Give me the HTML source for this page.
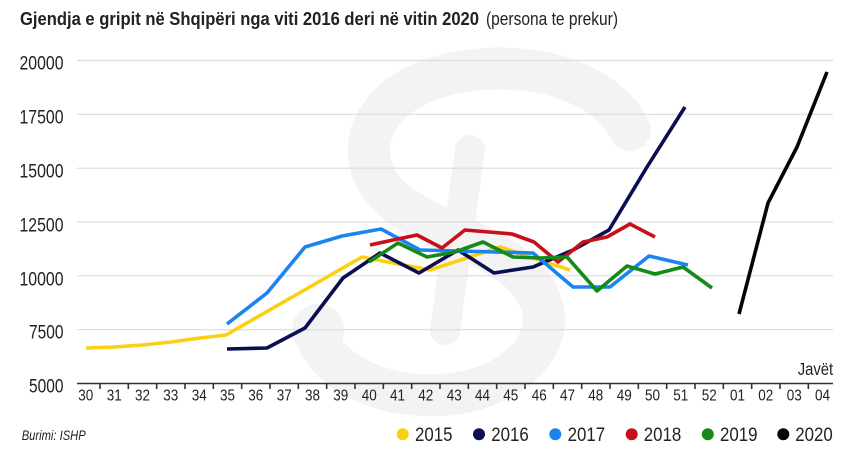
<!DOCTYPE html>
<html>
<head>
<meta charset="utf-8">
<style>
html,body{margin:0;padding:0;background:#fff;}
svg{display:block;}
text{font-family:"Liberation Sans",Arial,sans-serif;fill:#222;}
</style>
</head>
<body>
<svg width="850" height="450" viewBox="0 0 850 450" xmlns="http://www.w3.org/2000/svg">
<rect width="850" height="450" fill="#fff"/>
<!-- watermark -->
<g fill="none" stroke="#f3f3f3" stroke-linecap="round">
<path d="M630,130 C600,70 500,55 430,80 C360,105 350,170 400,205 C450,240 520,250 540,300 C560,350 500,400 420,395 C370,392 335,370 320,345" stroke-width="42"/>
<path d="M470,150 L445,330" stroke-width="30"/>
</g>
<circle cx="318" cy="330" r="26" fill="#f3f3f3"/>

<!-- title -->
<text x="20" y="25" font-size="18" font-weight="bold" textLength="459" lengthAdjust="spacingAndGlyphs" fill="#111">Gjendja e gripit në Shqipëri nga viti 2016 deri në vitin 2020</text>
<text x="486" y="25" font-size="18" textLength="132" lengthAdjust="spacingAndGlyphs" fill="#333">(persona te prekur)</text>

<!-- gridlines -->
<g stroke="#dcdcdc" stroke-width="1.2">
<line x1="77" y1="60.5" x2="833" y2="60.5"/>
<line x1="77" y1="114.3" x2="833" y2="114.3"/>
<line x1="77" y1="168.2" x2="833" y2="168.2"/>
<line x1="77" y1="222" x2="833" y2="222"/>
<line x1="77" y1="275.8" x2="833" y2="275.8"/>
<line x1="77" y1="329.7" x2="833" y2="329.7"/>
</g>

<!-- y labels -->
<g font-size="19.5" text-anchor="end" fill="#222">
<text x="63.5" y="69.5" textLength="44" lengthAdjust="spacingAndGlyphs">20000</text>
<text x="63.5" y="123.5" textLength="44" lengthAdjust="spacingAndGlyphs">17500</text>
<text x="63.5" y="177.5" textLength="44" lengthAdjust="spacingAndGlyphs">15000</text>
<text x="63.5" y="231.5" textLength="44" lengthAdjust="spacingAndGlyphs">12500</text>
<text x="63.5" y="285.5" textLength="44" lengthAdjust="spacingAndGlyphs">10000</text>
<text x="63.5" y="338.5" textLength="34.5" lengthAdjust="spacingAndGlyphs">7500</text>
<text x="63.5" y="392.5" textLength="34.5" lengthAdjust="spacingAndGlyphs">5000</text>
</g>

<!-- series -->
<g fill="none" stroke-width="3.6" stroke-linejoin="round" stroke-linecap="butt">
<polyline stroke="#fcd012" points="86,348 114,347 143,345 171,342 200,338 226,335 294,296 362,257 430,270 500,247 570,270"/>
<polyline stroke="#0b0f52" points="227,349 267,348 305,328 343,278 380,253 419,273 458,250 494,273 533,267 573,250 609,230 647,167 685,107"/>
<polyline stroke="#1a84f0" points="227,324 267,293 305,247 342,236 381,229 420,250 458,251 495,252 533,253 573,287 610,287 649,256 688,265"/>
<polyline stroke="#c8101a" points="370,245 393,240 417,235 442,248 465,230 489,232 512,234 534,242 558,262 583,242 607,237 630,224 655,237"/>
<polyline stroke="#158a1a" points="369,262 398,243 427,257 455,252 483,242 513,257 540,258 567,257 597,291 627,266 655,274 683,267 712,288"/>
<polyline stroke="#050505" points="739,314 768,203 797,147 827,72"/>
</g>

<!-- x axis -->
<line x1="77" y1="383.5" x2="833" y2="383.5" stroke="#333" stroke-width="1.6"/>
<g stroke="#333" stroke-width="1.6">
<line x1="100" y1="383" x2="100" y2="389"/>
<line x1="128.33" y1="383" x2="128.33" y2="389"/>
<line x1="156.67" y1="383" x2="156.67" y2="389"/>
<line x1="185" y1="383" x2="185" y2="389"/>
<line x1="213.33" y1="383" x2="213.33" y2="389"/>
<line x1="241.67" y1="383" x2="241.67" y2="389"/>
<line x1="270" y1="383" x2="270" y2="389"/>
<line x1="298.33" y1="383" x2="298.33" y2="389"/>
<line x1="326.67" y1="383" x2="326.67" y2="389"/>
<line x1="355" y1="383" x2="355" y2="389"/>
<line x1="383.33" y1="383" x2="383.33" y2="389"/>
<line x1="411.67" y1="383" x2="411.67" y2="389"/>
<line x1="440" y1="383" x2="440" y2="389"/>
<line x1="468.33" y1="383" x2="468.33" y2="389"/>
<line x1="496.67" y1="383" x2="496.67" y2="389"/>
<line x1="525" y1="383" x2="525" y2="389"/>
<line x1="553.33" y1="383" x2="553.33" y2="389"/>
<line x1="581.67" y1="383" x2="581.67" y2="389"/>
<line x1="610" y1="383" x2="610" y2="389"/>
<line x1="638.33" y1="383" x2="638.33" y2="389"/>
<line x1="666.67" y1="383" x2="666.67" y2="389"/>
<line x1="695" y1="383" x2="695" y2="389"/>
<line x1="723.33" y1="383" x2="723.33" y2="389"/>
<line x1="751.67" y1="383" x2="751.67" y2="389"/>
<line x1="780" y1="383" x2="780" y2="389"/>
<line x1="808.33" y1="383" x2="808.33" y2="389"/>
</g>
<g font-size="16" text-anchor="middle" fill="#222">
<text x="85.8" y="400.5" textLength="15" lengthAdjust="spacingAndGlyphs">30</text>
<text x="114.2" y="400.5" textLength="15" lengthAdjust="spacingAndGlyphs">31</text>
<text x="142.5" y="400.5" textLength="15" lengthAdjust="spacingAndGlyphs">32</text>
<text x="170.8" y="400.5" textLength="15" lengthAdjust="spacingAndGlyphs">33</text>
<text x="199.2" y="400.5" textLength="15" lengthAdjust="spacingAndGlyphs">34</text>
<text x="227.5" y="400.5" textLength="15" lengthAdjust="spacingAndGlyphs">35</text>
<text x="255.8" y="400.5" textLength="15" lengthAdjust="spacingAndGlyphs">36</text>
<text x="284.2" y="400.5" textLength="15" lengthAdjust="spacingAndGlyphs">37</text>
<text x="312.5" y="400.5" textLength="15" lengthAdjust="spacingAndGlyphs">38</text>
<text x="340.8" y="400.5" textLength="15" lengthAdjust="spacingAndGlyphs">39</text>
<text x="369.2" y="400.5" textLength="15" lengthAdjust="spacingAndGlyphs">40</text>
<text x="397.5" y="400.5" textLength="15" lengthAdjust="spacingAndGlyphs">41</text>
<text x="425.8" y="400.5" textLength="15" lengthAdjust="spacingAndGlyphs">42</text>
<text x="454.2" y="400.5" textLength="15" lengthAdjust="spacingAndGlyphs">43</text>
<text x="482.5" y="400.5" textLength="15" lengthAdjust="spacingAndGlyphs">44</text>
<text x="510.8" y="400.5" textLength="15" lengthAdjust="spacingAndGlyphs">45</text>
<text x="539.2" y="400.5" textLength="15" lengthAdjust="spacingAndGlyphs">46</text>
<text x="567.5" y="400.5" textLength="15" lengthAdjust="spacingAndGlyphs">47</text>
<text x="595.8" y="400.5" textLength="15" lengthAdjust="spacingAndGlyphs">48</text>
<text x="624.2" y="400.5" textLength="15" lengthAdjust="spacingAndGlyphs">49</text>
<text x="652.5" y="400.5" textLength="15" lengthAdjust="spacingAndGlyphs">50</text>
<text x="680.8" y="400.5" textLength="15" lengthAdjust="spacingAndGlyphs">51</text>
<text x="709.2" y="400.5" textLength="15" lengthAdjust="spacingAndGlyphs">52</text>
<text x="737.5" y="400.5" textLength="15" lengthAdjust="spacingAndGlyphs">01</text>
<text x="765.8" y="400.5" textLength="15" lengthAdjust="spacingAndGlyphs">02</text>
<text x="794.2" y="400.5" textLength="15" lengthAdjust="spacingAndGlyphs">03</text>
<text x="822.5" y="400.5" textLength="15" lengthAdjust="spacingAndGlyphs">04</text>
</g>
<text x="797.7" y="375" font-size="17.5" textLength="35.5" lengthAdjust="spacingAndGlyphs" fill="#222">Javët</text>

<!-- footer -->
<text x="21.7" y="440" font-size="14" font-style="italic" textLength="64" lengthAdjust="spacingAndGlyphs" fill="#222">Burimi: ISHP</text>

<!-- legend -->
<g font-size="19.5" fill="#222">
<circle cx="402.7" cy="434.3" r="6" fill="#fcd012"/>
<text x="415" y="441" textLength="37.5" lengthAdjust="spacingAndGlyphs">2015</text>
<circle cx="479" cy="434.3" r="6" fill="#0b0f52"/>
<text x="491.3" y="441" textLength="37.5" lengthAdjust="spacingAndGlyphs">2016</text>
<circle cx="555.3" cy="434.3" r="6" fill="#1a84f0"/>
<text x="567.6" y="441" textLength="37.5" lengthAdjust="spacingAndGlyphs">2017</text>
<circle cx="631.7" cy="434.3" r="6" fill="#c8101a"/>
<text x="643.8" y="441" textLength="37.5" lengthAdjust="spacingAndGlyphs">2018</text>
<circle cx="707.8" cy="434.3" r="6" fill="#158a1a"/>
<text x="720" y="441" textLength="37.5" lengthAdjust="spacingAndGlyphs">2019</text>
<circle cx="783.3" cy="434.3" r="6" fill="#050505"/>
<text x="795.3" y="441" textLength="37.5" lengthAdjust="spacingAndGlyphs">2020</text>
</g>
</svg>
</body>
</html>
